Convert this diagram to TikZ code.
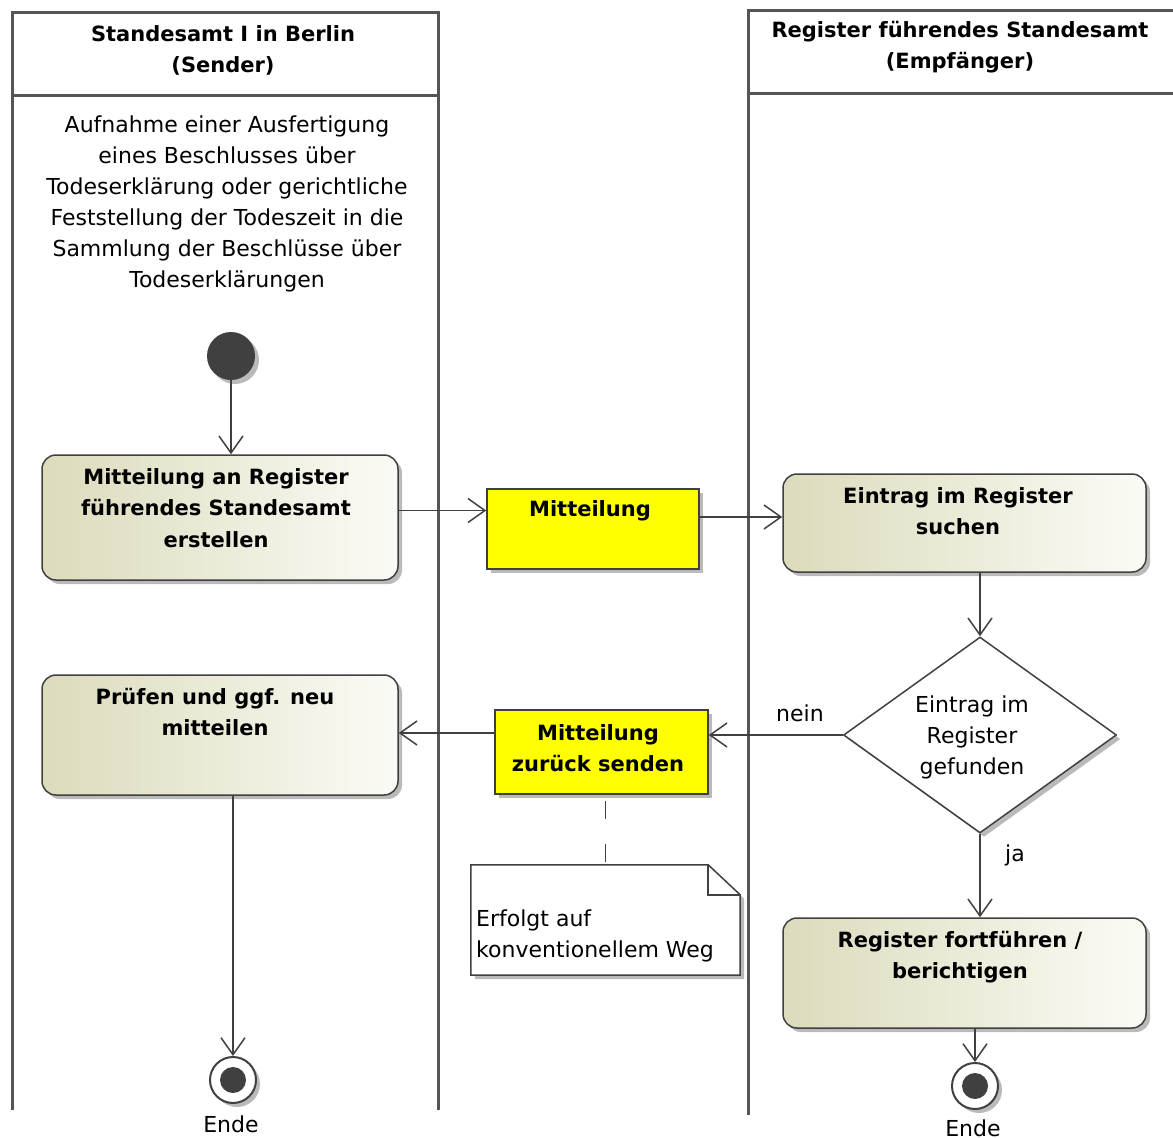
\documentclass[tikz,border=0pt]{standalone}
\usepackage{fontspec}
\setmainfont{DejaVu Sans}
\usetikzlibrary{arrows.meta,shapes.geometric,shadows,calc}
\definecolor{lanec}{HTML}{555555}
\definecolor{linec}{HTML}{404040}
\definecolor{olive}{RGB}{220,219,188}
\definecolor{light}{RGB}{251,251,246}
\definecolor{objy}{HTML}{FFFF00}
\tikzset{
  lane/.style={draw=lanec, line width=3pt},
  hdr/.style={align=center, font=\fontsize{21}{31}\selectfont\bfseries, inner sep=0pt},
  txt/.style={align=center, font=\fontsize{22}{31}\selectfont, inner sep=0pt},
  btxt/.style={align=center, font=\fontsize{21}{31.5}\selectfont\bfseries, inner sep=0pt},
  shad/.style={drop shadow={shadow xshift=4pt, shadow yshift=-4pt, opacity=0.45, fill=black!60}},
  action/.style={rectangle, rounded corners=14pt, draw=linec, line width=1.5pt,
     left color=olive, right color=light, shad, inner sep=0pt},
  objbox/.style={rectangle, draw=linec, line width=1.5pt, fill=objy, shad, inner sep=0pt},
  startnode/.style={circle, fill=linec, minimum size=48pt, inner sep=0pt, shad},
  finalnode/.style={circle, draw=linec, line width=2pt, fill=white, minimum size=46pt, inner sep=0pt, shad},
  decision/.style={diamond, draw=linec, line width=1.5pt, fill=white, minimum width=273pt, minimum height=196pt, inner sep=0pt, shad},
  flow/.style={draw=linec, line width=1.5pt, -{Straight Barb[length=17pt,width=24pt,line width=1.5pt]}},
  notefold/.style={draw=linec, line width=1.5pt},
}
\begin{document}
\begin{tikzpicture}[x=1pt,y=-1pt]
\useasboundingbox (0,0) rectangle (1173,1138);
% lanes
\draw[lane] (12,1110) -- (12,12) -- (438,12) -- (438,1110);
\draw[lane] (12,95) -- (438,95);
\draw[lane] (748,1115) -- (748,10) -- (1173,10);
\draw[lane] (748,93) -- (1173,93);
\node[hdr] (h1) at (223,50) {Standesamt I in Berlin\\(Sender)};
\node[hdr] (h2) at (960,47) {Register führendes Standesamt\\(Empfänger)};
\node[txt] (desc) at (227,204) {Aufnahme einer Ausfertigung\\eines Beschlusses über\\Todeserklärung oder gerichtliche\\Feststellung der Todeszeit in die\\Sammlung der Beschlüsse über\\Todeserklärungen};
% nodes
\node[startnode] (start) at (231,356) {};
\node[action, minimum width=356pt, minimum height=125pt] (a1) at (220,517.5) {};
\node[btxt] (a1t) at (216,508) {Mitteilung an Register\\führendes Standesamt\\erstellen};
\node[objbox, minimum width=212pt, minimum height=80pt] (obj1) at (593,529) {};
\node[btxt] (obj1t) at (590,511) {Mitteilung};
\node[action, minimum width=363pt, minimum height=98pt] (a3) at (964.5,523) {};
\node[btxt] (a3t) at (958,511) {Eintrag im Register\\suchen};
\node[decision] (dec) at (980,735) {};
\node[txt] (dect) at (972,737) {Eintrag im\\Register\\gefunden};
\node[objbox, minimum width=213pt, minimum height=84pt] (obj2) at (601.5,752) {};
\node[btxt] (obj2t) at (598,748) {Mitteilung\\zurück senden};
\node[action, minimum width=356pt, minimum height=120pt] (a2) at (220,735) {};
\node[btxt] (a2t) at (215,712) {Prüfen und ggf. neu\\mitteilen};
\node[finalnode] (end1) at (233,1080) {};
\fill[linec] (end1.center) circle (13pt);
\node[txt] (end1t) at (231,1124) {Ende};
\node[action, minimum width=363pt, minimum height=110pt] (a4) at (964.5,973) {};
\node[btxt] (a4t) at (960,957) {Register fortführen /\\berichtigen};
\node[finalnode] (end2) at (975,1086) {};
\fill[linec] (end2.center) circle (13pt);
\node[txt] (end2t) at (973,1128) {Ende};
% note
\node[minimum width=269pt, minimum height=110pt, inner sep=0pt] (note) at (605.5,920) {};
\fill[black!45, opacity=0.6] ([xshift=4pt,yshift=-4pt]note.north west) -- ([xshift=-28pt,yshift=-4pt]note.north east) -- ([xshift=4pt,yshift=-34pt]note.north east) -- ([xshift=4pt,yshift=-4pt]note.south east) -- ([xshift=4pt,yshift=-4pt]note.south west) -- cycle;
\draw[notefold, fill=white] (note.north west) -- ([xshift=-32pt]note.north east) -- ([yshift=-30pt]note.north east) -- (note.south east) -- (note.south west) -- cycle;
\draw[notefold] ([xshift=-32pt]note.north east) -- ([xshift=-32pt,yshift=-30pt]note.north east) -- ([yshift=-30pt]note.north east);
\node[txt, align=left, anchor=west] (notet) at (476,935.5) {Erfolgt auf\\konventionellem Weg};
% connectors
\draw[flow] (start.south) -- (start.south |- a1.north);
\draw[flow] ([yshift=7pt]a1.east) -- ([yshift=7pt]a1.east -| obj1.west);
\draw[flow] ([yshift=6pt]a3.west -| obj1.east) -- ([yshift=6pt]a3.west);
\draw[flow] (dec.north |- a3.south) -- (dec.north);
\draw[flow] (dec.west) -- (dec.west -| obj2.east);
\node[txt] (nein) at (800,713) {nein};
\draw[flow] ([yshift=19pt]obj2.west) -- ([yshift=19pt]obj2.west -| a2.east);
\draw[flow] (end1.north |- a2.south) -- (end1.north);
\draw[flow] (dec.south) -- (dec.south |- a4.north);
\node[txt] (ja) at (1015,855) {ja};
\draw[flow] (end2.north |- a4.south) -- (end2.north);
\draw[draw=linec, line width=1.5pt, dash pattern=on 18pt off 25pt, shorten <=6pt] (obj2.south -| note.north) -- (note.north);
\end{tikzpicture}
\end{document}
